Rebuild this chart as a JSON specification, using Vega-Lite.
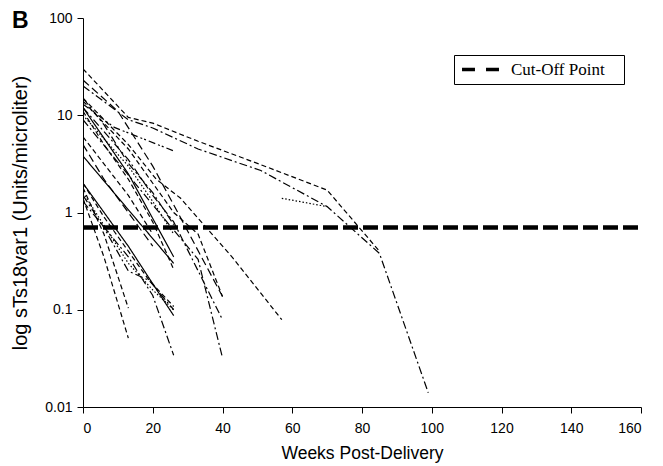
{
  "$schema": "https://vega.github.io/schema/vega-lite/v6.json",
  "autosize": {"type": "none"},
  "width": 558,
  "height": 389,
  "padding": {"left": 83, "top": 18, "right": 22, "bottom": 59},
  "background": "white",
  "title": {"text": "B", "anchor": "start", "frame": "group", "orient": "top", "font": "Liberation Sans", "fontWeight": "bold", "fontSize": 23, "color": "black", "dx": -71, "offset": -22},
  "config": {
    "view": {"stroke": null},
    "axis": {"domainColor": "black", "tickColor": "black", "labelColor": "black", "titleColor": "black", "grid": false, "labelFont": "Liberation Sans", "titleFont": "Liberation Sans", "labelFontSize": 14, "titleFontWeight": "normal", "domainWidth": 1, "tickWidth": 1}
  },
  "datasets": {
    "patients": [
      {"id": "P1", "style": "dash", "week": 0, "v": 30}, {"id": "P1", "style": "dash", "week": 13, "v": 9.5}, {"id": "P1", "style": "dash", "week": 20, "v": 8.3}, {"id": "P1", "style": "dash", "week": 33, "v": 5.4}, {"id": "P1", "style": "dash", "week": 51, "v": 3.1}, {"id": "P1", "style": "dash", "week": 70, "v": 1.7}, {"id": "P1", "style": "dash", "week": 85, "v": 0.4},
      {"id": "P2", "style": "dashdot", "week": 0, "v": 20}, {"id": "P2", "style": "dashdot", "week": 13, "v": 9}, {"id": "P2", "style": "dashdot", "week": 20, "v": 7.4}, {"id": "P2", "style": "dashdot", "week": 33, "v": 4.5}, {"id": "P2", "style": "dashdot", "week": 51, "v": 2.7}, {"id": "P2", "style": "dashdot", "week": 70, "v": 1.15}, {"id": "P2", "style": "dashdot", "week": 85, "v": 0.38}, {"id": "P2", "style": "dashdot", "week": 99, "v": 0.014},
      {"id": "P3", "style": "dashdotdot", "week": 0, "v": 13}, {"id": "P3", "style": "dashdotdot", "week": 9, "v": 7.5}, {"id": "P3", "style": "dashdotdot", "week": 26, "v": 4.3},
      {"id": "P4", "style": "dot", "week": 57, "v": 1.4}, {"id": "P4", "style": "dot", "week": 70, "v": 1.15},
      {"id": "P5", "style": "dash", "week": 0, "v": 15}, {"id": "P5", "style": "dash", "week": 13, "v": 5}, {"id": "P5", "style": "dash", "week": 21, "v": 2.2}, {"id": "P5", "style": "dash", "week": 28, "v": 1.4}, {"id": "P5", "style": "dash", "week": 43, "v": 0.34}, {"id": "P5", "style": "dash", "week": 57, "v": 0.079},
      {"id": "P6", "style": "longdash", "week": 0, "v": 23}, {"id": "P6", "style": "longdash", "week": 10, "v": 11}, {"id": "P6", "style": "longdash", "week": 20, "v": 3}, {"id": "P6", "style": "longdash", "week": 26, "v": 1.2}, {"id": "P6", "style": "longdash", "week": 40, "v": 0.137},
      {"id": "P7", "style": "solid", "week": 0, "v": 12}, {"id": "P7", "style": "solid", "week": 13, "v": 2.5}, {"id": "P7", "style": "solid", "week": 26, "v": 0.35},
      {"id": "P8", "style": "solid", "week": 0, "v": 3.8}, {"id": "P8", "style": "solid", "week": 26, "v": 0.3},
      {"id": "P9", "style": "dash", "week": 0, "v": 11}, {"id": "P9", "style": "dash", "week": 6, "v": 5}, {"id": "P9", "style": "dash", "week": 13, "v": 2.2}, {"id": "P9", "style": "dash", "week": 20, "v": 0.8}, {"id": "P9", "style": "dash", "week": 26, "v": 0.26},
      {"id": "P10", "style": "dashdot", "week": 0, "v": 12}, {"id": "P10", "style": "dashdot", "week": 13, "v": 3.5}, {"id": "P10", "style": "dashdot", "week": 20, "v": 1.5}, {"id": "P10", "style": "dashdot", "week": 26, "v": 0.8}, {"id": "P10", "style": "dashdot", "week": 40, "v": 0.079},
      {"id": "P11", "style": "dashdot", "week": 0, "v": 9}, {"id": "P11", "style": "dashdot", "week": 20, "v": 1.2}, {"id": "P11", "style": "dashdot", "week": 33, "v": 0.33}, {"id": "P11", "style": "dashdot", "week": 40, "v": 0.032},
      {"id": "P12", "style": "dash", "week": 0, "v": 14}, {"id": "P12", "style": "dash", "week": 13, "v": 4.5}, {"id": "P12", "style": "dash", "week": 20, "v": 2.0}, {"id": "P12", "style": "dash", "week": 26, "v": 1.0}, {"id": "P12", "style": "dash", "week": 33, "v": 0.6}, {"id": "P12", "style": "dash", "week": 40, "v": 0.137},
      {"id": "P13", "style": "dot", "week": 0, "v": 10}, {"id": "P13", "style": "dot", "week": 13, "v": 3}, {"id": "P13", "style": "dot", "week": 20, "v": 1.3}, {"id": "P13", "style": "dot", "week": 26, "v": 0.6},
      {"id": "P14", "style": "dash", "week": 0, "v": 6}, {"id": "P14", "style": "dash", "week": 13, "v": 1.5}, {"id": "P14", "style": "dash", "week": 20, "v": 0.6},
      {"id": "P15", "style": "longdash", "week": 0, "v": 5}, {"id": "P15", "style": "longdash", "week": 6, "v": 2.2}, {"id": "P15", "style": "longdash", "week": 13, "v": 1.0}, {"id": "P15", "style": "longdash", "week": 20, "v": 0.45},
      {"id": "P16", "style": "dashdot", "week": 0, "v": 15}, {"id": "P16", "style": "dashdot", "week": 6, "v": 8}, {"id": "P16", "style": "dashdot", "week": 13, "v": 3.2}, {"id": "P16", "style": "dashdot", "week": 20, "v": 1.6}, {"id": "P16", "style": "dashdot", "week": 26, "v": 0.75},
      {"id": "P17", "style": "dash", "week": 0, "v": 1.4}, {"id": "P17", "style": "dash", "week": 6, "v": 0.35}, {"id": "P17", "style": "dash", "week": 13, "v": 0.051},
      {"id": "P18", "style": "dash", "week": 0, "v": 1.8}, {"id": "P18", "style": "dash", "week": 6, "v": 0.6}, {"id": "P18", "style": "dash", "week": 13, "v": 0.104},
      {"id": "P19", "style": "dash", "week": 0, "v": 2}, {"id": "P19", "style": "dash", "week": 6, "v": 0.9}, {"id": "P19", "style": "dash", "week": 13, "v": 0.4}, {"id": "P19", "style": "dash", "week": 19, "v": 0.2}, {"id": "P19", "style": "dash", "week": 26, "v": 0.108},
      {"id": "P20", "style": "solid", "week": 0, "v": 2}, {"id": "P20", "style": "solid", "week": 13, "v": 0.45}, {"id": "P20", "style": "solid", "week": 19, "v": 0.21}, {"id": "P20", "style": "solid", "week": 26, "v": 0.087},
      {"id": "P21", "style": "dashdot", "week": 0, "v": 1.3}, {"id": "P21", "style": "dashdot", "week": 13, "v": 0.35}, {"id": "P21", "style": "dashdot", "week": 20, "v": 0.14}, {"id": "P21", "style": "dashdot", "week": 26, "v": 0.034},
      {"id": "P22", "style": "dot", "week": 0, "v": 1.6}, {"id": "P22", "style": "dot", "week": 13, "v": 0.3}, {"id": "P22", "style": "dot", "week": 20, "v": 0.16}, {"id": "P22", "style": "dot", "week": 26, "v": 0.1},
      {"id": "P23", "style": "dashdot", "week": 0, "v": 1.5}, {"id": "P23", "style": "dashdot", "week": 6, "v": 0.7}, {"id": "P23", "style": "dashdot", "week": 13, "v": 0.25}, {"id": "P23", "style": "dashdot", "week": 19, "v": 0.2}, {"id": "P23", "style": "dashdot", "week": 26, "v": 0.1}
    ],
    "cutoff": [
      {"series": "Cut-Off Point", "week": 0, "v": 0.7},
      {"series": "Cut-Off Point", "week": 160, "v": 0.7}
    ]
  },
  "encoding": {
    "x": {"field": "week", "type": "quantitative", "scale": {"domain": [0, 160], "nice": false, "zero": false},
      "axis": {"values": [0, 20, 40, 60, 80, 100, 120, 140, 160], "title": "Weeks Post-Delivery", "titleFontSize": 17.5, "tickSize": 6, "labelPadding": 8, "titlePadding": 9}},
    "y": {"field": "v", "type": "quantitative", "scale": {"type": "log", "domain": [0.01, 100], "nice": false},
      "axis": {"values": [0.01, 0.1, 1, 10, 100], "labelExpr": "datum.value + ''", "title": "log sTs18var1 (Units/microliter)", "titleFontSize": 20, "tickSize": 6, "labelPadding": 5, "titlePadding": 14}}
  },
  "layer": [
    {
      "data": {"name": "patients"},
      "mark": {"type": "line", "color": "black", "strokeWidth": 1.2, "clip": true},
      "encoding": {
        "detail": {"field": "id"},
        "strokeDash": {"field": "style", "type": "nominal", "legend": null,
          "scale": {"domain": ["dash", "longdash", "dashdot", "dashdotdot", "dot", "solid"],
                    "range": [[5, 3], [8, 4], [8, 3, 2, 3], [7, 3, 2, 2, 2, 3], [1.5, 2], [1, 0]]}}
      }
    },
    {
      "data": {"name": "cutoff"},
      "mark": {"type": "line", "strokeWidth": 4.5, "strokeDash": [15, 5]},
      "encoding": {
        "color": {"field": "series", "type": "nominal", "scale": {"range": ["black"]},
          "legend": {"title": "\u00a0", "titleOrient": "right", "titlePadding": 13, "titleFontSize": 10, "orient": "none", "legendX": 371, "legendY": 37,
            "strokeColor": "black", "padding": 6, "symbolType": "M-3.08,0H-0.92M0.92,0H3.08", "symbolSize": 144, "symbolStrokeWidth": 3.5, "symbolOffset": 12,
            "labelFont": "Liberation Serif", "labelFontSize": 17, "labelColor": "black", "labelOffset": 22}}
      }
    }
  ]
}
